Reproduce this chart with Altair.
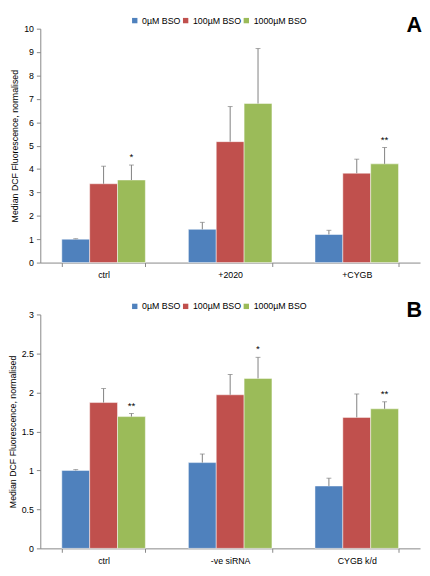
import altair as alt
import pandas as pd

series = ["0µM BSO", "100µM BSO", "1000µM BSO"]
colors = ["#4F81BD", "#C0504D", "#9BBB59"]

# Panel A
cats_a = ["ctrl", "+2020", "+CYGB"]
a_mean = {
    "0µM BSO": [1.00, 1.42, 1.20],
    "100µM BSO": [3.37, 5.17, 3.82],
    "1000µM BSO": [3.53, 6.80, 4.22],
}
a_upper = {
    "0µM BSO": [1.02, 1.72, 1.38],
    "100µM BSO": [4.12, 6.67, 4.42],
    "1000µM BSO": [4.17, 9.15, 4.92],
}
a_star = {
    "0µM BSO": ["", "", ""],
    "100µM BSO": ["", "", ""],
    "1000µM BSO": ["*", "", "**"],
}

# Panel B
cats_b = ["ctrl", "-ve siRNA", "CYGB k/d"]
b_mean = {
    "0µM BSO": [1.00, 1.10, 0.80],
    "100µM BSO": [1.87, 1.97, 1.68],
    "1000µM BSO": [1.69, 2.18, 1.79],
}
b_upper = {
    "0µM BSO": [1.01, 1.21, 0.90],
    "100µM BSO": [2.05, 2.23, 1.98],
    "1000µM BSO": [1.73, 2.45, 1.88],
}
b_star = {
    "0µM BSO": ["", "", ""],
    "100µM BSO": ["", "", ""],
    "1000µM BSO": ["**", "*", "**"],
}

ticks_a = [0, 1, 2, 3, 4, 5, 6, 7, 8, 9, 10]
ticks_b = [0, 0.5, 1, 1.5, 2, 2.5, 3]

YTITLE = "Median DCF Fluorescence, normalised"
FONT = "Arial"


def make_df(cats, mean, upper, star):
    rows = []
    for i, c in enumerate(cats):
        for s in series:
            rows.append({"group": c, "series": s, "value": mean[s][i],
                         "upper": upper[s][i], "star": star[s][i]})
    return pd.DataFrame(rows)


def panel(df, cats, ymax, yvals, yfmt, letter, W, H, legend_x):
    yscale = alt.Scale(domain=[0, ymax], nice=False)
    yaxis = alt.Axis(values=yvals, title=YTITLE, titleFontSize=9,
                     titleFontWeight="normal", titlePadding=4,
                     format=yfmt, labelOverlap=False, labelPadding=3,
                     tickCount=len(yvals))
    base = alt.Chart(df).encode(
        x=alt.X("group:N", sort=cats,
                scale=alt.Scale(paddingInner=0.34, paddingOuter=0.17),
                axis=alt.Axis(title=None, labelAngle=0, tickBand="extent",
                              labelPadding=4)),
        xOffset=alt.XOffset("series:N", sort=series,
                            scale=alt.Scale(paddingInner=0, paddingOuter=0)),
    )
    bars = base.mark_bar(stroke="white", strokeWidth=0.8, strokeOpacity=0.6).encode(
        y=alt.Y("value:Q", scale=yscale, axis=yaxis),
        color=alt.Color("series:N", sort=series,
                        scale=alt.Scale(domain=series, range=colors),
                        legend=alt.Legend(title=None, orient="none",
                                          direction="horizontal",
                                          legendX=legend_x, legendY=-13,
                                          padding=0,
                                          symbolType="square", symbolSize=30,
                                          symbolStrokeWidth=0,
                                          labelFontSize=9, labelFont=FONT,
                                          columnPadding=0, labelOffset=3)),
    )
    err = base.mark_rule(color="#7F7F7F", strokeWidth=1).encode(
        y=alt.Y("value:Q", scale=yscale, axis=yaxis), y2="upper:Q")
    cap = base.mark_tick(color="#7F7F7F", size=5, thickness=1).encode(
        y=alt.Y("upper:Q", scale=yscale, axis=yaxis))
    stars = base.mark_text(dy=-8, fontSize=10, font=FONT, color="black").encode(
        y=alt.Y("upper:Q", scale=yscale, axis=yaxis), text="star:N")
    lab = alt.Chart(pd.DataFrame({"letter": [letter]})).mark_text(
        fontSize=22, fontWeight="bold", font=FONT, align="right",
        baseline="middle", color="black").encode(
        x=alt.value(W + 2), y=alt.value(-4), text="letter:N")
    return alt.layer(bars, err, cap, stars, lab).properties(width=W, height=H)


df_a = make_df(cats_a, a_mean, a_upper, a_star)
df_b = make_df(cats_b, b_mean, b_upper, b_star)

W = 388
H = 239
pa = panel(df_a, cats_a, 10, ticks_a, "d", "A", W, H, 92)
pb = panel(df_b, cats_b, 3, ticks_b, "~g", "B", W, H, 92)

chart = alt.vconcat(pa, pb, spacing=21).resolve_scale(
    x="independent", y="independent", color="independent", xOffset="independent"
).resolve_legend(color="independent").properties(
    padding=0
).configure_view(stroke=None).configure_axis(
    labelFont=FONT, titleFont=FONT, labelFontSize=9, labelColor="#000000",
    titleColor="#000000", domainColor="#868686", tickColor="#868686",
    tickSize=4, grid=False
)

chart.save("out.html", embed_options={"renderer": "svg", "actions": False})
